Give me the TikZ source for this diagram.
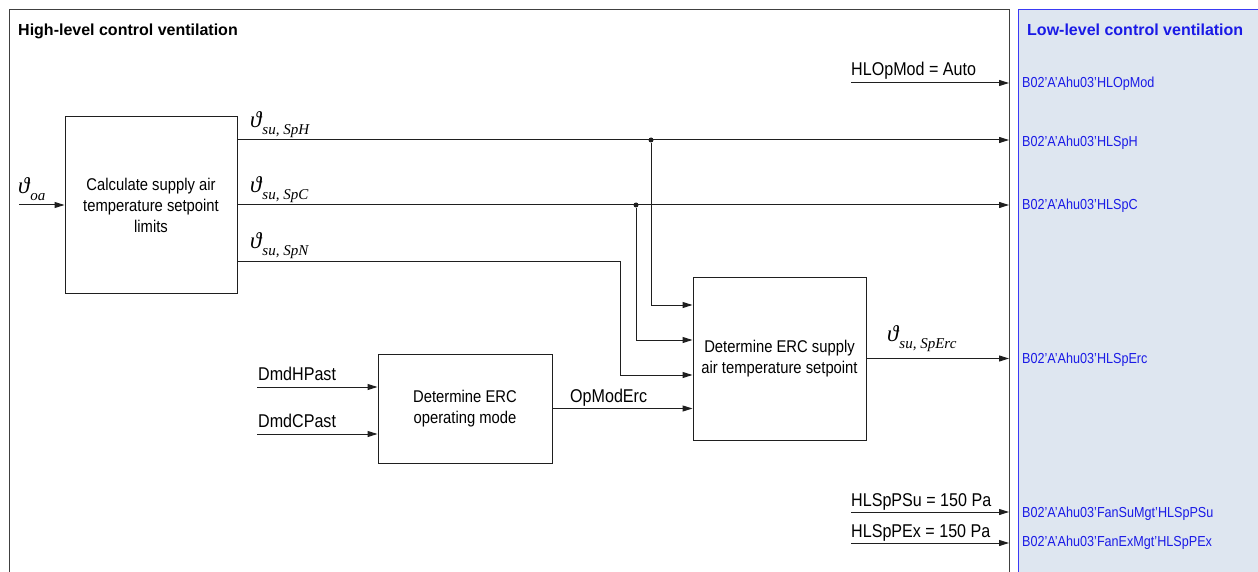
\documentclass[tikz,border=0pt]{standalone}
\usepackage{fontspec}
\setmainfont{Liberation Sans}[FakeStretch=0.87]
\newfontfamily\headfont{Liberation Sans}
\newfontfamily\subfont{Liberation Serif}
\usetikzlibrary{arrows.meta}

\definecolor{panelfill}{HTML}{DEE6F0}
\definecolor{panelblue}{HTML}{3A3AF5}
\definecolor{labelblue}{HTML}{1A1AE6}
\definecolor{wire}{gray}{0.12}
\definecolor{framegray}{gray}{0.25}

% temperature symbol with a lowered italic index
\newcommand{\tempsym}[1]{{\subfont\itshape\fontsize{23}{24}\selectfont ϑ}\kern1pt%
  \raisebox{-7pt}{\subfont\itshape\fontsize{15}{17}\selectfont #1}}

\tikzset{
  block/.style={draw=wire, line width=1pt, align=center, inner sep=0pt,
    font=\fontsize{17}{21}\selectfont},
  flow/.style={draw=wire, line width=1pt, -{Triangle[length=10pt,width=6pt]}},
  plain/.style={draw=wire, line width=1pt},
  sig/.style={font=\fontsize{18.5}{22}\selectfont, inner sep=0pt, anchor=base west},
  mathsig/.style={inner sep=0pt, anchor=base west},
  tag/.style={font=\fontsize{14.5}{17}\selectfont, text=labelblue, inner sep=0pt, anchor=base west},
  heading/.style={font=\headfont\bfseries\fontsize{16}{19}\selectfont, inner sep=0pt, anchor=base west},
  junction/.style={circle, fill=wire, inner sep=0pt, minimum size=5pt},
}

\begin{document}
\begin{tikzpicture}[x=1pt, y=-1pt]
  \useasboundingbox (0,0) rectangle (1258,572);
  \clip (0,0) rectangle (1258,572);

  % frames
  \draw[framegray, line width=1pt] (9,10) rectangle (1009,640);
  \draw[panelblue, fill=panelfill, line width=1pt] (1018,10) rectangle (1290,640);

  \node[heading] (hlTitle) at (18,36) {High-level control ventilation};
  \node[heading, text=labelblue] (llTitle) at (1027,36) {Low-level control ventilation};

  % function blocks
  \node[block, minimum width=172pt, minimum height=176pt] (calc) at (151,205)
    {Calculate supply air\\temperature setpoint\\limits};
  \node[block, minimum width=174pt, minimum height=109pt] (mode) at (465,408.5)
    {Determine ERC\\operating mode};
  \node[block, minimum width=173pt, minimum height=163pt] (erc) at (779.5,358.5)
    {Determine ERC supply\\air temperature setpoint};

  % points on the frame edge and free line ends
  \coordinate (oa) at (19,205);
  \coordinate (eOp) at (1009,83);
  \coordinate (eH) at (1009,140);
  \coordinate (eC) at (1009,205);
  \coordinate (eErc) at (1009,358.5);
  \coordinate (ePSu) at (1009,512);
  \coordinate (ePEx) at (1009,543);
  \coordinate (sOp) at (851,83);
  \coordinate (sPSu) at (851,512);
  \coordinate (sPEx) at (851,543);
  \coordinate (sDH) at (257,387);
  \coordinate (sDC) at (257,434);
  \coordinate (nBend) at (620,261);

  \node[junction] (jH) at (651,140) {};
  \node[junction] (jC) at (636,205) {};

  % outdoor air temperature input
  \draw[flow] (oa) -- (oa -| calc.west);
  \node[mathsig] (lOa) at (18,194) {\tempsym{oa}};

  % setpoint limits
  \draw[flow] (calc.east |- eH) -- (eH);
  \draw[flow] (calc.east |- eC) -- (eC);
  \draw[plain] (calc.east |- nBend) -- (nBend);
  \node[mathsig] (lH) at (250,128) {\tempsym{su, SpH}};
  \node[mathsig] (lC) at (250,193) {\tempsym{su, SpC}};
  \node[mathsig] (lN) at (250,248) {\tempsym{su, SpN}};

  % branches into the ERC setpoint block
  \draw[flow] (jH) |- (erc.west |- 0,305);
  \draw[flow] (jC) |- (erc.west |- 0,340);
  \draw[flow] (nBend) |- (erc.west |- 0,375);
  \draw[flow] (mode.east) -- (mode.east -| erc.west);
  \node[sig] (lMode) at (570,402) {OpModErc};

  % demand inputs
  \draw[flow] (sDH) -- (sDH -| mode.west);
  \draw[flow] (sDC) -- (sDC -| mode.west);
  \node[sig] (lDH) at (258,380) {DmdHPast};
  \node[sig] (lDC) at (258,427) {DmdCPast};

  % ERC setpoint output
  \draw[flow] (erc.east) -- (eErc);
  \node[mathsig] (lErc) at (887,341) {\tempsym{su, SpErc}};

  % fixed values
  \draw[flow] (sOp) -- (eOp);
  \node[sig] (lOp) at (851,76) {HLOpMod = Auto};
  \draw[flow] (sPSu) -- (ePSu);
  \node[sig] (lPSu) at (851,506) {HLSpPSu = 150 Pa};
  \draw[flow] (sPEx) -- (ePEx);
  \node[sig] (lPEx) at (851,537) {HLSpPEx = 150 Pa};

  % low-level data points
  \node[tag] (tOp) at (1022,88) {B02'A'Ahu03'HLOpMod};
  \node[tag] (tH) at (1022,146.5) {B02'A'Ahu03'HLSpH};
  \node[tag] (tC) at (1022,210) {B02'A'Ahu03'HLSpC};
  \node[tag] (tErc) at (1022,363) {B02'A'Ahu03'HLSpErc};
  \node[tag] (tPSu) at (1022,517) {B02'A'Ahu03'FanSuMgt'HLSpPSu};
  \node[tag] (tPEx) at (1022,546.5) {B02'A'Ahu03'FanExMgt'HLSpPEx};
\end{tikzpicture}
\end{document}
